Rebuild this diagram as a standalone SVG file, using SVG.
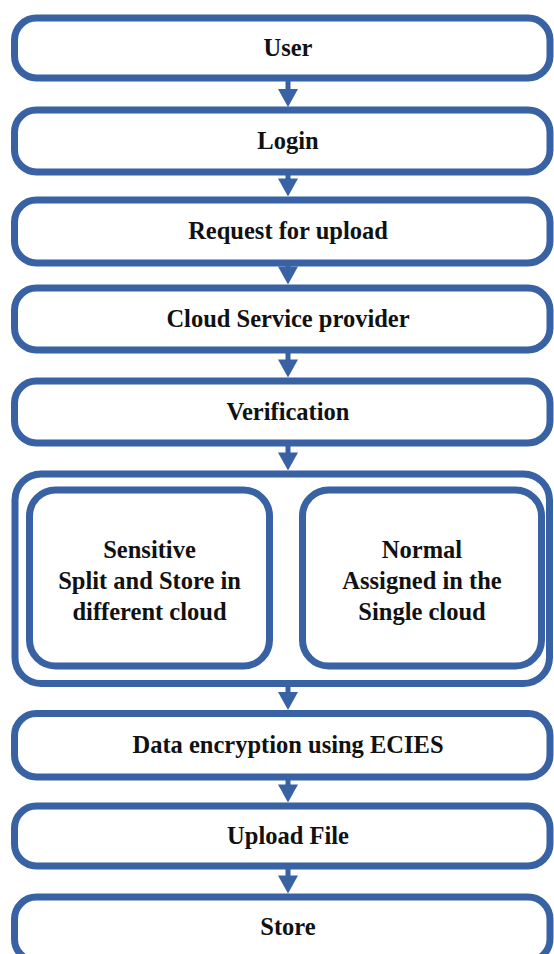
<svg xmlns="http://www.w3.org/2000/svg" width="554" height="954" viewBox="0 0 554 954">
<style>
.box{fill:#ffffff;stroke:#3862a3;stroke-width:7}
.lbl{font-family:"Liberation Serif","Times New Roman",serif;font-weight:bold;font-size:24.5px;fill:#111111;text-anchor:middle}
.arr{fill:#3862a3;stroke:none}
</style>
<defs>
<path id="arrowhead" d="M-10,0 L10,0 L0,18 Z"/>
</defs>
<rect width="554" height="954" fill="#ffffff"/>
<g id="node-user"><rect class="box" x="14.5" y="18" width="535.5" height="60" rx="22"/><text class="lbl" x="288" y="56">User</text></g>
<g id="node-login"><rect class="box" x="14.5" y="110" width="535.5" height="62" rx="22"/><text class="lbl" x="288" y="149">Login</text></g>
<g id="node-request"><rect class="box" x="14.5" y="200" width="535.5" height="63" rx="22"/><text class="lbl" x="288" y="239">Request for upload</text></g>
<g id="node-csp"><rect class="box" x="14.5" y="288" width="535.5" height="62" rx="22"/><text class="lbl" x="288" y="327">Cloud Service provider</text></g>
<g id="node-verification"><rect class="box" x="14.5" y="381" width="535.5" height="62" rx="22"/><text class="lbl" x="288" y="420">Verification</text></g>
<g id="node-classify"><rect class="box" x="15" y="474" width="534.5" height="209.5" rx="26"/></g>
<g id="node-sensitive"><rect class="box" x="29.5" y="490" width="240" height="176" rx="26"/><text class="lbl" x="149.5" y="558">Sensitive</text><text class="lbl" x="149.5" y="589">Split and Store in</text><text class="lbl" x="149.5" y="620">different cloud</text></g>
<g id="node-normal"><rect class="box" x="302.5" y="490" width="239" height="176" rx="26"/><text class="lbl" x="422" y="558">Normal</text><text class="lbl" x="422" y="589">Assigned in the</text><text class="lbl" x="422" y="620">Single cloud</text></g>
<g id="node-encryption"><rect class="box" x="14.5" y="713.5" width="535.5" height="63.5" rx="22"/><text class="lbl" x="288" y="753">Data encryption using ECIES</text></g>
<g id="node-upload"><rect class="box" x="14.5" y="806" width="535.5" height="60" rx="22"/><text class="lbl" x="288" y="844">Upload File</text></g>
<g id="node-store"><rect class="box" x="14.5" y="897" width="535.5" height="64" rx="22"/><text class="lbl" x="288" y="935">Store</text></g>
<g id="connectors">
<rect class="arr" x="285.5" y="81" width="5" height="9"/><use href="#arrowhead" class="arr" x="288" y="89"/>
<rect class="arr" x="285.5" y="175" width="5" height="4"/><use href="#arrowhead" class="arr" x="288" y="178.5"/>
<rect class="arr" x="285.5" y="266" width="5" height="2"/><use href="#arrowhead" class="arr" x="288" y="266.5"/>
<rect class="arr" x="285.5" y="353" width="5" height="8"/><use href="#arrowhead" class="arr" x="288" y="359.5"/>
<rect class="arr" x="285.5" y="446" width="5" height="9"/><use href="#arrowhead" class="arr" x="288" y="452.5"/>
<rect class="arr" x="285.5" y="686" width="5" height="8"/><use href="#arrowhead" class="arr" x="288" y="692"/>
<rect class="arr" x="285.5" y="780" width="5" height="8"/><use href="#arrowhead" class="arr" x="288" y="784.5"/>
<rect class="arr" x="285.5" y="869" width="5" height="8"/><use href="#arrowhead" class="arr" x="288" y="875.5"/>
</g>
</svg>
